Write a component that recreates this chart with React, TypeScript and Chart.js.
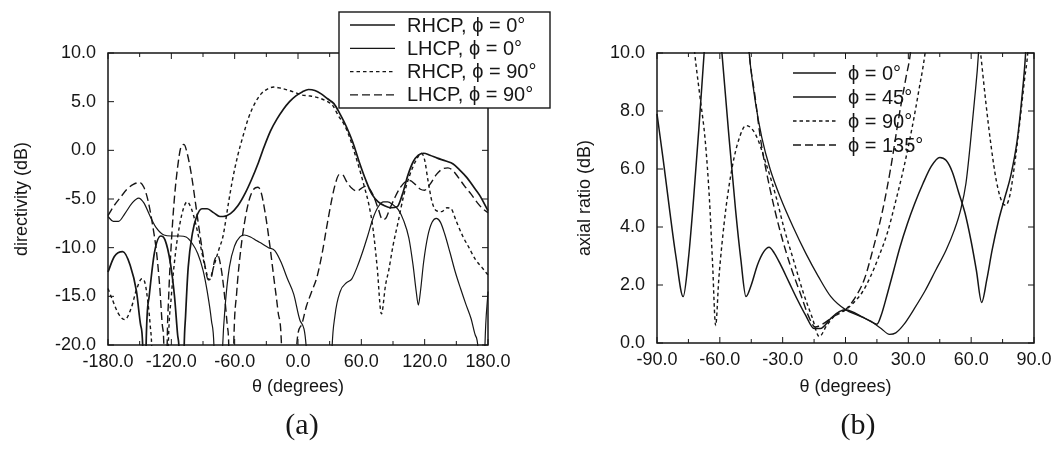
import React, { useEffect, useRef } from "react";
import { Chart, registerables } from "chart.js";

Chart.register(...registerables);

const FONT = '"Liberation Sans", Arial, Helvetica, sans-serif';
const INK = "#161616";

// ---------------- (a) directivity vs theta ----------------
const aXTicksMinor = [-150, -90, -30, 30, 90, 150];

const rhcp0Theta = [-180, -174, -166, -159, -153, -149, -147, -145.5, -144, -141, -136, -130, -126, -121, -117, -114, -112.5, -110, -108, -106.5, -104, -100, -96, -91, -86, -80, -74, -71, -64, -57, -50, -44, -38, -32, -26, -20, -14, -8, -2, 4, 10, 16, 22, 28, 34, 40, 46, 52, 58, 64, 70, 76, 82, 88, 94, 99, 104, 109, 114, 119, 125, 132, 140, 147, 153, 160, 166, 172, 180];
const rhcp0Db = [-12.5, -10.9, -10.4, -11.8, -14.5, -18, -20.5, -40, -20.5, -15, -10.5, -8.8, -9.2, -11.5, -15, -19, -21, -40, -21, -17, -12, -8.5, -6.8, -6.0, -6.0, -6.4, -6.8, -6.8, -6.5, -5.7, -4.4, -3.0, -1.4, 0.4, 2.0, 3.2, 4.2, 5.0, 5.6, 6.0, 6.25, 6.15, 5.8, 5.3, 4.8, 3.7, 2.4, 0.8, -1.2, -3.0, -4.5, -5.3, -5.7, -5.9, -5.8, -4.5, -2.6, -1.2, -0.5, -0.3, -0.5, -0.8, -1.1, -1.4, -2.0, -2.8, -3.7, -4.6, -6.2];

const lhcp0Theta = [-180, -175, -170, -164, -157, -151, -146, -140, -134, -127, -120, -112, -106, -100, -95, -90, -86, -82, -79.5, -76, -71.5, -69, -65, -60, -55, -51, -45, -39, -34, -28, -22, -16, -10, -4, 2, 8, 12, 28, 32, 35, 40, 46, 51, 56, 61, 66, 71, 76, 81, 85, 90, 95, 100, 105, 109, 112, 114, 116, 119, 123, 127, 131, 135, 139, 144, 149, 154, 159, 164, 168, 171, 174, 177, 180];
const lhcp0Db = [-6.8, -7.3, -7.3, -6.5, -5.4, -4.9, -5.4, -6.8, -8.0, -8.7, -8.8, -8.8, -8.9, -9.6, -10.6, -12.3, -14.5, -17.5, -20.5, -40, -20.5, -16, -12, -9.8, -8.9, -8.7, -8.9, -9.3, -9.6, -10.0, -10.3, -11.5, -13.2, -14.8, -17.5, -20.5, -40, -40, -21, -17, -14.5, -13.6, -13.2, -12, -10.5, -8.8, -7.0, -5.8, -5.3, -5.3, -5.6, -6.1, -7.2, -9.0, -11.8, -14.5, -15.9, -14.5, -11.5, -8.8, -7.4, -7.0, -7.4, -8.6, -10.5, -12.5, -14.2, -15.8, -17.3, -19.0, -21, -40, -20.5, -14.5];

const rhcp90Theta = [-180, -176, -170, -164, -158, -153, -148, -145, -142, -140, -138.5, -135, -126, -123, -120, -116, -112, -108, -105, -101, -97, -92, -88, -84, -80, -75, -71, -66, -62, -57, -52, -47, -41, -35, -29, -23, -17, -10, -3, 3, 10, 16, 22, 28, 33, 38, 44, 49, 54, 59, 63, 67, 71, 75, 79, 83, 86, 90, 95, 100, 106, 112, 117, 120, 123, 127, 131, 136, 141, 145, 150, 156, 162, 168, 174, 180];
const rhcp90Db = [-14.2, -15.3, -16.8, -17.4, -16.2, -14.3, -13.2, -13.6, -15.8, -18, -20.5, -40, -40, -20.5, -15, -10.5, -7.6, -5.8, -5.3, -6.0, -7.5, -10.0, -12.0, -13.3, -12.0, -10.2, -8.8, -5.5, -3.0, -0.5, 1.5, 3.3, 4.8, 5.8, 6.3, 6.5, 6.4, 6.2, 5.95, 5.7, 5.6, 5.5, 5.3, 5.0, 4.6, 3.6, 2.6, 1.3, -0.4, -2.2, -3.8, -5.5, -8.0, -12, -16.8, -13.8, -12.3, -9.8, -7.3, -4.7, -2.5, -1.0, -0.3, -1.0, -3.0, -5.3, -6.2, -6.3, -5.9, -6.0, -7.3, -8.8, -10.0, -11.2, -12.0, -12.8];

const lhcp90Theta = [-180, -175, -168, -162, -156, -150, -146, -142, -138, -134, -131, -128.5, -127, -125.5, -124, -122.5, -120, -117, -114, -111, -108, -105, -101, -97, -93, -89, -85, -82, -79, -76, -73, -70, -67, -65.5, -63.5, -61, -58, -54, -50, -46, -42, -38, -35, -31, -27, -23, -19, -15.5, -12, -4, -1.5, 3, 8, 13, 18, 23, 27, 31, 35, 39, 42, 46, 51, 56, 60, 64, 68, 72, 76, 80, 83, 87, 92, 97, 102, 106, 111, 116, 120, 125, 131, 137, 142, 147, 152, 158, 164, 170, 175, 180];
const lhcp90Db = [-6.7, -5.8, -4.8, -4.0, -3.5, -3.3, -3.8, -5.2, -7.5, -10.5, -14, -18, -20.5, -40, -20.5, -15, -9.5, -4.8, -1.7, 0.3, 0.6, -0.3, -2.5, -5.5, -8.6, -11.3, -13.3, -13.0, -11.3, -10.8, -12.0, -14.5, -18, -20.5, -40, -20.5, -14.5, -10.0, -7.0, -5.0, -4.0, -3.8, -4.3, -6.5, -9.5, -13.0, -16.5, -20.5, -40, -40, -20.5, -18, -16, -14.5, -13.0, -10.5, -8.0, -5.6, -3.6, -2.5, -2.5, -3.2, -3.9, -4.2, -3.9, -3.7, -4.0, -4.8, -6.0, -7.1, -7.0, -6.0, -4.8, -3.8, -3.2, -3.1, -3.5, -4.0, -4.1, -3.5, -2.5, -1.9, -1.8, -2.1, -2.8, -3.7, -4.5, -5.4, -6.0, -6.4];

// ---------------- (b) axial ratio vs theta ----------------
const bXTicksMinor = [-75, -45, -15, 15, 45, 75];

const ar0Theta = [-52, -46, -43, -40, -36, -31, -25, -19, -13, -7, 0, 6, 12, 17, 21, 24, 28, 33, 38, 43, 48, 52, 55, 57.5, 59.5, 61.5, 63.5, 66];
const ar0Db = [16, 10, 8.3, 7.1, 6.0, 5.0, 4.0, 3.1, 2.3, 1.6, 1.15, 0.95, 0.75, 0.5, 0.3, 0.35, 0.65, 1.2, 1.8, 2.5, 3.2, 3.9, 4.6, 5.5, 6.8, 8.3, 10, 14];

const ar45Theta = [-90, -87, -84, -81, -77.5, -75, -72.5, -70, -67.5, -65, -62, -59, -55.5, -52.5, -50, -47.5, -45, -42, -39, -36.5, -34, -31, -27, -23, -19, -15, -12, -7, -3, 0, 4, 8, 12, 15, 17, 20, 23, 26, 29.5, 33, 37, 41, 45, 48, 51, 54, 57, 60, 62.5, 65, 67.5, 70, 73, 76, 79, 82, 84, 86, 88];
const ar45Db = [7.9, 6.3, 4.6, 3.0, 1.6, 2.9, 5.0, 7.4, 10, 13, 13, 10, 7.0, 4.6, 2.9, 1.6, 2.0, 2.7, 3.15, 3.3, 3.1, 2.7, 2.1, 1.5, 0.95, 0.5, 0.5, 0.85, 1.08, 1.15, 1.05, 0.9, 0.75, 0.65, 0.95, 1.7, 2.5, 3.3, 4.1, 4.8, 5.5, 6.1, 6.4, 6.3, 5.9, 5.2, 4.5, 3.5, 2.5, 1.4, 2.2, 3.2, 4.2, 5.0, 5.8, 7.0, 8.3, 10, 13];

const ar90Theta = [-78, -74.5, -72, -69.5, -67, -65, -63.5, -62, -60.5, -59, -57, -54, -51, -47.5, -43, -38, -33, -29.5, -25, -20, -16, -12.5, -9, -5, 0, 4, 8, 12, 16, 20, 24, 28, 32, 35, 38, 41, 50, 60, 62.5, 64.5, 67, 69.5, 72, 74.5, 76.5, 78.5, 81, 83.5, 85.5, 87, 89];
const ar90Db = [15, 12, 10, 8.5, 7.0, 5.0, 2.8, 0.6, 2.2, 3.4, 4.7, 6.1, 7.0, 7.5, 7.2, 6.2, 5.0, 4.0, 2.9, 1.7, 0.9, 0.22, 0.6, 0.95, 1.15, 1.4, 1.75, 2.3, 3.0, 3.8, 4.9, 6.1, 7.5, 8.7, 10, 12, 14, 13, 11.3, 10, 8.3, 6.8, 5.6, 4.9, 4.75, 5.1, 6.3, 7.8, 9.1, 10, 12.5];

const ar135Theta = [-50, -46, -43, -40.5, -36, -31, -26, -21.5, -17.5, -14.5, -11, -6, 0, 4, 9, 13, 17.5, 21.5, 25.5, 29, 31, 34];
const ar135Db = [14, 10, 8.4, 7.0, 5.3, 3.8, 2.6, 1.7, 0.9, 0.55, 0.65, 0.9, 1.15, 1.5, 2.2, 3.2, 4.5, 6.0, 7.8, 9.2, 10, 12.5];

const pts = (t: number[], v: number[]) => t.map((x, i) => ({ x, y: v[i] }));

const ds = (label: string, t: number[], v: number[], dash: number[], width: number) => ({
  label,
  data: pts(t, v),
  borderColor: INK,
  borderWidth: width,
  borderDash: dash,
  pointRadius: 0,
  fill: false,
  cubicInterpolationMode: "monotone" as const,
  clip: 1,
});

type LegendCfg = {
  box?: { x: number; y: number; w: number; h: number };
  x0: number;
  x1: number;
  textX: number;
  y0: number;
  dy: number;
  font: string;
};

const framePlugin = (minorX: number[], legend: LegendCfg) => ({
  id: "frameAndLegend",
  afterDatasetsDraw(chart: any) {
    const { ctx, chartArea: a, scales } = chart;
    const xs = scales.x;
    const ys = scales.y;
    ctx.save();
    ctx.setLineDash([]);
    ctx.strokeStyle = INK;
    ctx.lineWidth = 1.5;
    ctx.strokeRect(a.left, a.top, a.right - a.left, a.bottom - a.top);
    ctx.lineWidth = 1;
    const tickX = (v: number, len: number) => {
      const p = xs.getPixelForValue(v);
      ctx.beginPath();
      ctx.moveTo(p, a.bottom);
      ctx.lineTo(p, a.bottom - len);
      ctx.moveTo(p, a.top);
      ctx.lineTo(p, a.top + len);
      ctx.stroke();
    };
    const tickY = (v: number, len: number) => {
      const p = ys.getPixelForValue(v);
      ctx.beginPath();
      ctx.moveTo(a.left, p);
      ctx.lineTo(a.left + len, p);
      ctx.moveTo(a.right, p);
      ctx.lineTo(a.right - len, p);
      ctx.stroke();
    };
    xs.ticks.forEach((t: any) => tickX(t.value, 6));
    minorX.forEach((v) => tickX(v, 4));
    ys.ticks.forEach((t: any) => tickY(t.value, 6));

    // legend
    if (legend.box) {
      const b = legend.box;
      ctx.fillStyle = "#ffffff";
      ctx.fillRect(b.x, b.y, b.w, b.h);
      ctx.lineWidth = 1.4;
      ctx.strokeRect(b.x, b.y, b.w, b.h);
    }
    ctx.font = legend.font;
    ctx.fillStyle = INK;
    ctx.textBaseline = "middle";
    ctx.textAlign = "left";
    chart.data.datasets.forEach((d: any, i: number) => {
      const y = legend.y0 + i * legend.dy;
      ctx.strokeStyle = INK;
      ctx.lineWidth = d.borderWidth;
      ctx.setLineDash(d.borderDash || []);
      ctx.beginPath();
      ctx.moveTo(legend.x0, y);
      ctx.lineTo(legend.x1, y);
      ctx.stroke();
      ctx.setLineDash([]);
      ctx.fillText(d.label, legend.textX, y + 1);
    });
    ctx.restore();
  },
});

const fmt = (v: any) => Number(v).toFixed(1);

function makeOptions(p: {
  xMin: number; xMax: number; xStep: number;
  yMin: number; yMax: number; yStep: number;
  yTitle: string; yWidth: number; yTitlePad: number;
  xHeight: number; xTitlePad: number;
  padding: { left: number; right: number; top: number; bottom: number };
}) {
  return {
    responsive: false,
    maintainAspectRatio: false,
    animation: false as const,
    layout: { padding: p.padding },
    plugins: { legend: { display: false }, tooltip: { enabled: false } },
    scales: {
      x: {
        type: "linear" as const,
        min: p.xMin,
        max: p.xMax,
        grid: { display: false, drawTicks: false },
        border: { display: false },
        ticks: { stepSize: p.xStep, padding: 6, color: INK, font: { family: FONT, size: 18 }, callback: fmt, maxRotation: 0, autoSkip: false },
        title: { display: true, text: "θ (degrees)", color: INK, font: { family: FONT, size: 18 }, padding: { top: 0, bottom: p.xTitlePad } },
        afterFit: (s: any) => { s.height = p.xHeight; },
      },
      y: {
        type: "linear" as const,
        min: p.yMin,
        max: p.yMax,
        grid: { display: false, drawTicks: false },
        border: { display: false },
        ticks: { stepSize: p.yStep, padding: 12, color: INK, font: { family: FONT, size: 18 }, callback: fmt },
        title: { display: true, text: p.yTitle, color: INK, font: { family: FONT, size: 18 }, padding: { top: p.yTitlePad, bottom: 0 } },
        afterFit: (s: any) => { s.width = p.yWidth; },
      },
    },
  };
}

function ChartA() {
  const ref = useRef<HTMLCanvasElement>(null);
  useEffect(() => {
    const chart = new Chart(ref.current!, {
      type: "line",
      data: {
        datasets: [
          ds("RHCP, ϕ = 0°", rhcp0Theta, rhcp0Db, [], 1.7),
          ds("LHCP, ϕ = 0°", lhcp0Theta, lhcp0Db, [], 1.2),
          ds("RHCP, ϕ = 90°", rhcp90Theta, rhcp90Db, [3.5, 3], 1.4),
          ds("LHCP, ϕ = 90°", lhcp90Theta, lhcp90Db, [8, 4], 1.4),
        ],
      },
      options: makeOptions({
        xMin: -180, xMax: 180, xStep: 60,
        yMin: -20, yMax: 10, yStep: 5,
        yTitle: "directivity (dB)", yWidth: 108, yTitlePad: 11,
        xHeight: 60, xTitlePad: 7,
        padding: { left: 0, right: 72, top: 53, bottom: 46 },
      }) as any,
      plugins: [
        framePlugin(aXTicksMinor, {
          box: { x: 339, y: 12, w: 211, h: 96 },
          x0: 350, x1: 395, textX: 407, y0: 25, dy: 23.3,
          font: `20px ${FONT}`,
        }),
      ],
    });
    return () => chart.destroy();
  }, []);
  return (
    <canvas ref={ref} width={560} height={451}
      style={{ position: "absolute", left: 0, top: 0, width: 560, height: 451 }} />
  );
}

function ChartB() {
  const ref = useRef<HTMLCanvasElement>(null);
  useEffect(() => {
    const chart = new Chart(ref.current!, {
      type: "line",
      data: {
        datasets: [
          ds("ϕ = 0°", ar0Theta, ar0Db, [], 1.3),
          ds("ϕ = 45°", ar45Theta, ar45Db, [], 1.5),
          ds("ϕ = 90°", ar90Theta, ar90Db, [3.5, 3], 1.4),
          ds("ϕ = 135°", ar135Theta, ar135Db, [8, 4], 1.4),
        ],
      },
      options: makeOptions({
        xMin: -90, xMax: 90, xStep: 30,
        yMin: 0, yMax: 10, yStep: 2,
        yTitle: "axial ratio (dB)", yWidth: 97, yTitlePad: 14,
        xHeight: 60, xTitlePad: 5,
        padding: { left: 0, right: 29, top: 53, bottom: 48 },
      }) as any,
      plugins: [
        framePlugin(bXTicksMinor, {
          x0: 233, x1: 276, textX: 288, y0: 73, dy: 24,
          font: `20px ${FONT}`,
        }),
      ],
    });
    return () => chart.destroy();
  }, []);
  return (
    <canvas ref={ref} width={503} height={451}
      style={{ position: "absolute", left: 560, top: 0, width: 503, height: 451 }} />
  );
}

const captionStyle = (cx: number): React.CSSProperties => ({
  position: "absolute",
  left: cx - 40,
  width: 80,
  top: 404,
  textAlign: "center",
  fontFamily: '"Liberation Serif", "DejaVu Serif", serif',
  fontSize: 30,
  lineHeight: "40px",
  color: INK,
});

export default function App() {
  return (
    <div style={{ position: "fixed", left: 0, top: 0, width: 1063, height: 451, background: "#fff", overflow: "hidden" }}>
      <ChartA />
      <ChartB />
      <div style={captionStyle(302)}>(a)</div>
      <div style={captionStyle(858)}>(b)</div>
    </div>
  );
}
